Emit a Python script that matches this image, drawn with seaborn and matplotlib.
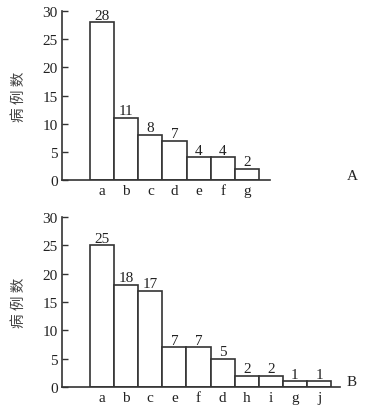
import numpy as np
import pandas as pd
import matplotlib
matplotlib.use("Agg")
from matplotlib import pyplot as plt
import seaborn as sns

# panel A
cats_a = ['a', 'b', 'c', 'd', 'e', 'f', 'g']
vals_a = [28, 11, 8, 7, 4, 4, 2]
# panel B
cats_b = ['a', 'b', 'c', 'e', 'f', 'd', 'h', 'i', 'g', 'j']
vals_b = [25, 18, 17, 7, 7, 5, 2, 2, 1, 1]
yticks = [0, 5, 10, 15, 20, 25, 30]

sns.set_style('ticks')
plt.rcParams['font.family'] = ['Liberation Serif', 'Noto Sans CJK SC']
plt.rcParams['axes.linewidth'] = 1.2

fig = plt.figure(figsize=(3.65, 4.1), dpi=100)
ax1 = fig.add_axes([0.170, 0.5585, 0.570, 0.412])
ax2 = fig.add_axes([0.170, 0.0537, 0.7616, 0.4146])

line_col = '#333333'

def draw(ax, cats, vals, xmax):
    df = pd.DataFrame({'cat': cats, 'n': vals})
    sns.barplot(data=df, x='cat', y='n', order=cats, ax=ax, width=1.0,
                color='white', edgecolor=line_col, linewidth=1.2, saturation=1)
    ax.bar_label(ax.containers[0], padding=0.5, fontsize=11, color='#222222')
    ax.set_xlim(-1.66, xmax)
    ax.set_ylim(0, 30)
    ax.set_yticks(yticks)
    ax.tick_params(axis='y', direction='in', length=4, width=1, labelsize=11,
                   colors=line_col, labelcolor='#222222', pad=3)
    ax.tick_params(axis='x', length=0, labelsize=11, labelcolor='#222222', pad=3)
    sns.despine(ax=ax)
    for s in ['left', 'bottom']:
        ax.spines[s].set_color(line_col)
    ax.set_xlabel('')
    ax.set_ylabel('病 例 数', family=['Noto Sans CJK SC'], fontsize=10.5, color='#444444')
    w = ax.get_position().width * 365
    ax.yaxis.set_label_coords((26 - 62) / w, 0.5)

draw(ax1, cats_a, vals_a, 6.96)
draw(ax2, cats_b, vals_b, 9.87)

fig.text(352 / 365, 1 - 177 / 410, 'A', ha='center', va='center', fontsize=11, color='#222222')
fig.text(352 / 365, 1 - 383 / 410, 'B', ha='center', va='center', fontsize=11, color='#222222')

fig.savefig('out.png', dpi=100)
